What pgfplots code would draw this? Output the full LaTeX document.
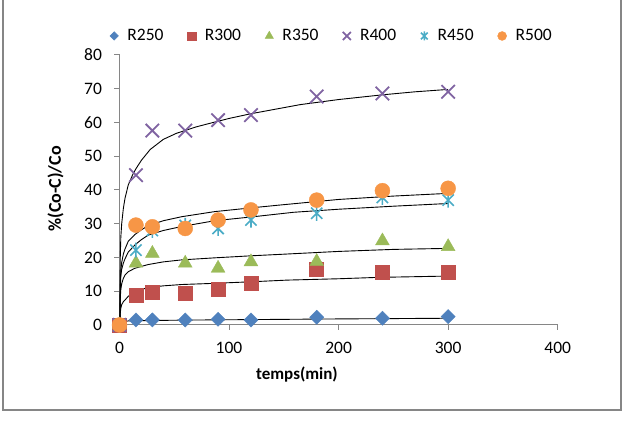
\documentclass[border=0pt]{standalone}
\usepackage{fontspec}
\setmainfont{Carlito}
\usepackage{pgfplots}
\pgfplotsset{compat=1.18}
\definecolor{cBlue}{RGB}{79,129,189}
\definecolor{cRed}{RGB}{192,80,77}
\definecolor{cGreen}{RGB}{155,187,89}
\definecolor{cPurple}{RGB}{128,100,162}
\definecolor{cCyan}{RGB}{75,172,198}
\definecolor{cOrange}{RGB}{247,150,70}
\definecolor{axgray}{RGB}{134,134,134}
\pgfdeclareplotmark{xstar}{%
  \pgfpathmoveto{\pgfqpoint{0pt}{\pgfplotmarksize}}%
  \pgfpathlineto{\pgfqpoint{0pt}{-\pgfplotmarksize}}%
  \pgfpathmoveto{\pgfqpoint{-.75\pgfplotmarksize}{-.75\pgfplotmarksize}}%
  \pgfpathlineto{\pgfqpoint{.75\pgfplotmarksize}{.75\pgfplotmarksize}}%
  \pgfpathmoveto{\pgfqpoint{-.75\pgfplotmarksize}{.75\pgfplotmarksize}}%
  \pgfpathlineto{\pgfqpoint{.75\pgfplotmarksize}{-.75\pgfplotmarksize}}%
  \pgfusepathqstroke}
\newcommand{\tickfont}{\fontsize{17.5}{20}\selectfont}
\begin{document}
\begin{tikzpicture}
\useasboundingbox (0pt,0pt) rectangle (626pt,422pt);
\draw[axgray, line width=1.5pt] (3pt,422pt) -- (3pt,12pt) -- (621pt,12pt) -- (621pt,422pt);
\begin{axis}[
  at={(119.5pt,97pt)}, anchor=south west,
  scale only axis, width=438.2pt, height=270pt,
  xmin=0, xmax=400, ymin=0, ymax=80,
  xtick={0,100,...,400}, ytick={0,10,...,80},
  axis x line*=bottom, axis y line*=left,
  axis line style={axgray, line width=1pt},
  tick style={axgray, line width=1pt},
  tick align=outside, major tick length=5pt,
  clip=false,
  /pgf/number format/assume math mode=true,
  ticklabel style={font=\tickfont, text=black},
  yticklabel style={xshift=-9pt},
  xticklabel style={yshift=-9pt},
  xlabel={\bfseries temps(min)},
  ylabel={\bfseries \%(Co-C)/Co},
  xlabel style={font=\fontsize{17}{20}\selectfont, at={(axis description cs:0.405,-0.185)}, anchor=center},
  ylabel style={font=\fontsize{18}{20}\selectfont, at={(axis description cs:-0.146,0.504)}, anchor=center},
  legend columns=6,
  legend image code/.code={\path (-4pt,0pt) (4pt,0pt); \draw[#1, every mark/.append style={scale=0.6}] plot coordinates {(0pt,0pt)};},
  legend style={at={(-0.0217,1.0704)}, anchor=west, draw=none, fill=none,
    inner sep=0pt, outer sep=0pt, font=\tickfont,
    /tikz/every odd column/.append style={column sep=7pt},
    /tikz/every even column/.append style={column sep=22pt}},
  legend cell align=left,
]
\addplot[only marks, mark=square*, mark size=5pt, color=cBlue, mark options={rotate=45, fill=cBlue}]
  coordinates {(0,0) (15,1.5) (30,1.5) (60,1.5) (90,1.7) (120,1.5) (180,2.3) (240,2.0) (300,2.5)};
\addlegendentry{R250}
\addplot[only marks, mark=square*, mark size=7pt, color=cRed, mark options={fill=cRed}]
  coordinates {(0,0) (15,8.8) (30,9.8) (60,9.4) (90,10.5) (120,12.4) (180,16.5) (240,15.7) (300,15.7)};
\addlegendentry{R300}
\addplot[only marks, mark=triangle*, mark size=8pt, color=cGreen, mark options={fill=cGreen}]
  coordinates {(0,0) (15,18.3) (30,21.2) (60,18.3) (90,16.8) (120,18.7) (180,18.8) (240,24.9) (300,23.2)};
\addlegendentry{R350}
\addplot[only marks, mark=x, mark size=9.5pt, color=cPurple, mark options={line width=1.8pt}]
  coordinates {(0,0) (15,44.4) (30,57.6) (60,57.6) (90,60.7) (120,62.2) (180,67.7) (240,68.6) (300,69.1)};
\addlegendentry{R400}
\addplot[only marks, mark=xstar, mark size=7.5pt, color=cCyan, mark options={line width=1.6pt}]
  coordinates {(0,0) (15,22.2) (30,28.0) (60,29.5) (90,28.6) (120,31.1) (180,33.1) (240,37.8) (300,37.0)};
\addlegendentry{R450}
\addplot[only marks, mark=*, mark size=7.5pt, color=cOrange, mark options={fill=cOrange}]
  coordinates {(0,0) (15,29.6) (30,29.1) (60,28.6) (90,31.1) (120,34.1) (180,37.0) (240,39.8) (300,40.5)};
\addlegendentry{R500}
% trend curves
\addplot[forget plot, black, line width=0.9pt] coordinates {(0.4,0.3) (1,0.7) (3,1.0) (8,1.2) (20,1.3) (60,1.45) (120,1.6) (200,1.8) (300,2.0)};
\addplot[forget plot, black, line width=0.9pt] coordinates {(0.4,1) (0.7,3.5) (1.2,5) (2,6) (3.5,6.9) (5,7.4) (8,8.5) (14,9.9) (26,11.1) (40,11.6) (57,12.0) (83,12.3) (120,12.8) (153,13.3) (200,13.7) (235,14.1) (300,14.5)};
\addplot[forget plot, black, line width=0.9pt] coordinates {(0.4,1.5) (0.7,8) (1.2,10.5) (2,12.2) (3.5,13.8) (5,14.8) (8,15.8) (14,16.8) (26,17.9) (40,18.7) (57,19.3) (87,19.9) (120,20.5) (145,20.9) (200,21.8) (250,22.4) (300,22.7)};
\addplot[forget plot, black, line width=0.9pt] coordinates {(0.4,2) (0.7,20) (1.2,26) (2,30) (3.5,34.5) (5,37.5) (8,41.5) (12,44.5) (15,46.3) (20,48.8) (28,52) (40,55) (52,56.8) (70,58.7) (83,59.8) (100,61.2) (120,62.6) (140,63.8) (165,65.3) (200,66.8) (240,68.2) (270,69.1) (300,69.8)};
\addplot[forget plot, black, line width=0.9pt] coordinates {(0.4,2) (0.7,11) (1.2,14.5) (2,16.5) (3.5,18.3) (5,19.6) (8,21.6) (14,23.7) (20,25.3) (26,26.6) (40,28.0) (57,29.2) (87,30.9) (120,32.0) (159,33.4) (200,34.3) (250,35.2) (300,36.0)};
\addplot[forget plot, black, line width=0.9pt] coordinates {(0.4,2) (0.7,12) (1.2,16) (2,18.5) (3.5,21) (5,22.5) (8,24.8) (14,26.8) (20,28.2) (26,29.4) (40,30.9) (57,32.1) (87,33.6) (120,34.7) (145,35.5) (200,37.2) (250,38.2) (300,39.0)};
\end{axis}
\end{tikzpicture}
\end{document}
